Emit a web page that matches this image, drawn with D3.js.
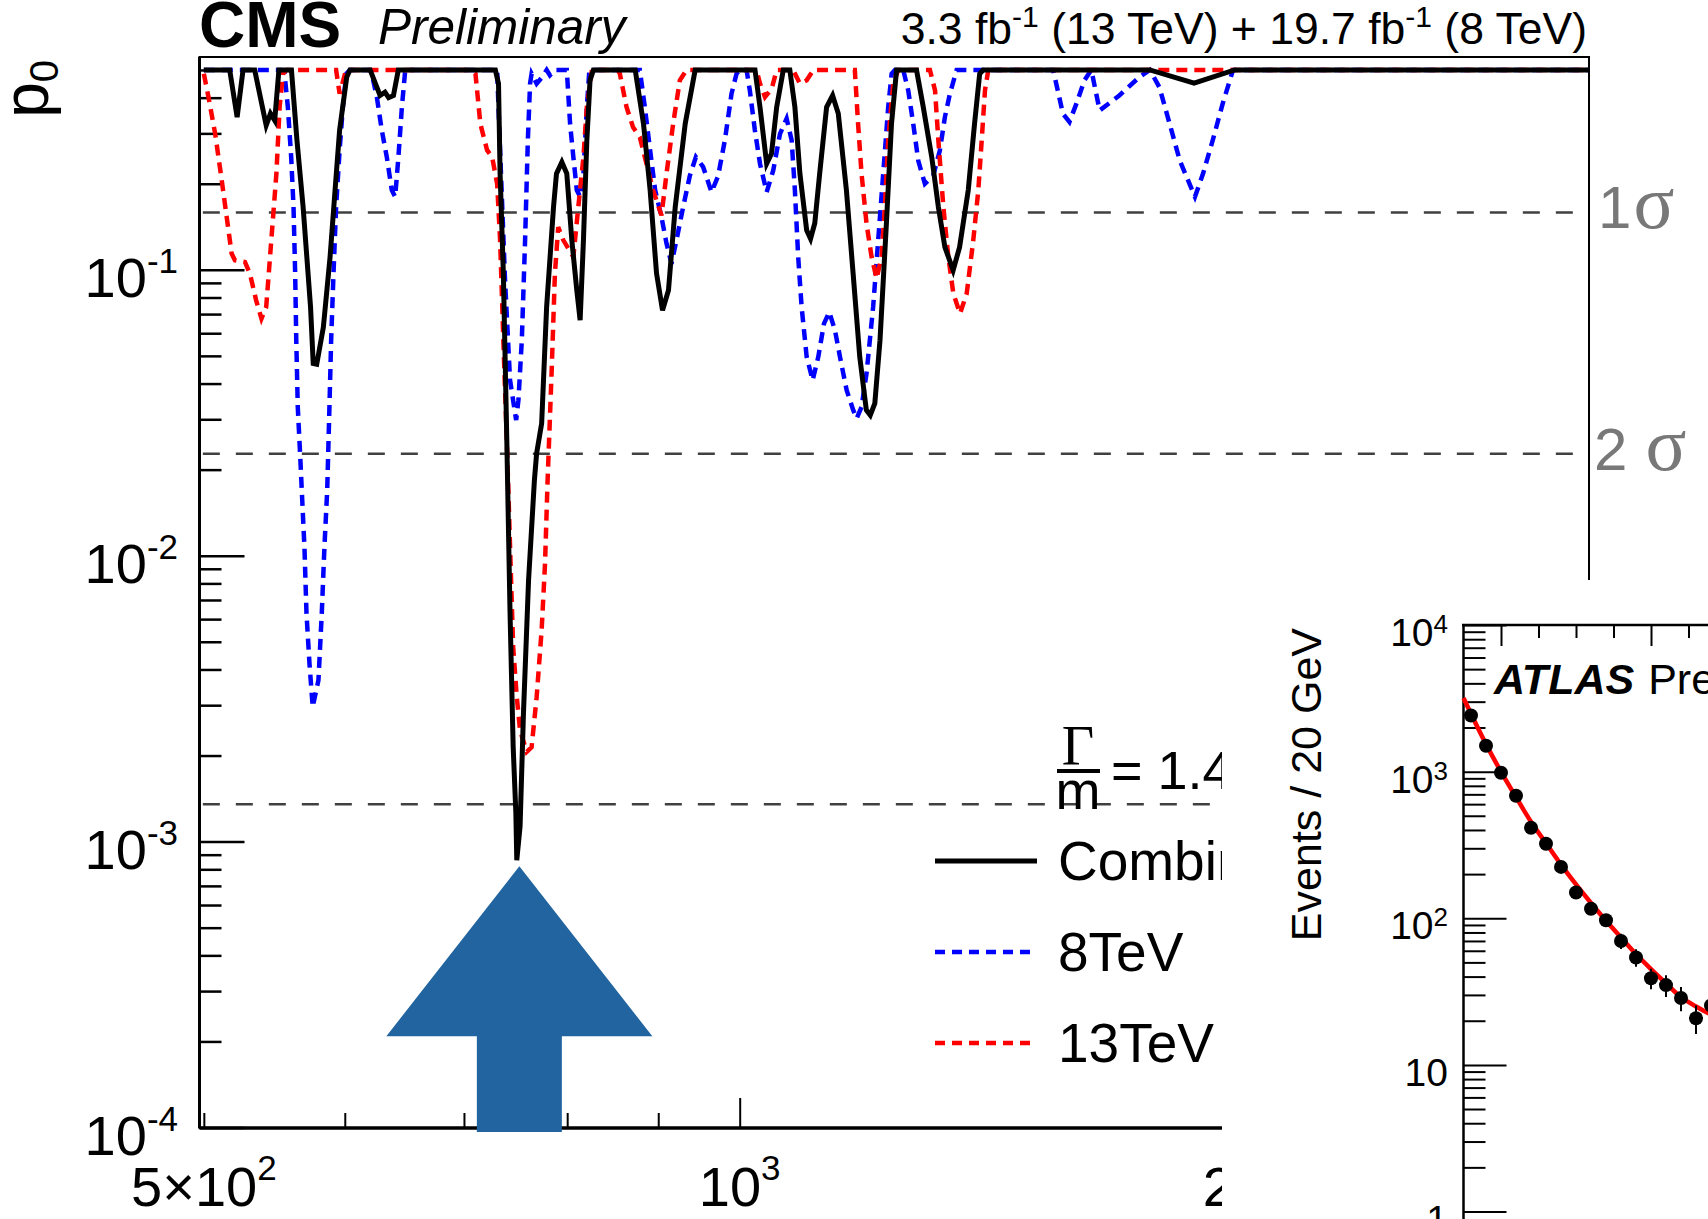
<!DOCTYPE html>
<html>
<head>
<meta charset="utf-8">
<script src="https://cdn.jsdelivr.net/npm/d3@7"></script>
<style>
  html, body { margin: 0; padding: 0; background: #fff; }
  svg { display: block; font-family: "Liberation Sans", Arial, sans-serif; }
</style>
</head>
<body>
<div id="chart"></div>
<script>
// Config
const width = 1708;
const height = 1219;

// Local p0 vs diphoton mass, [mass GeV, p0]
const combined = [
  [500,0.5],[517,0.5],[522,0.342],[526,0.5],[534,0.5],[542,0.32],[545,0.352],[548,0.333],[551,0.5],
  [560,0.5],[564,0.284],[568.5,0.166],[574,0.0741],[576,0.047],[578.6,0.0467],[583.6,0.063],[588.7,0.111],
  [592.5,0.19],[596,0.308],[601.5,0.472],[604,0.5],[620,0.5],[628,0.407],[632,0.418],[635,0.4],[639,0.407],
  [643,0.5],[729,0.5],[732,0.448],[733.5,0.217],[736.6,0.0972],[739.9,0.0253],[743,0.0063],[746,0.00215],
  [748.6,0.00126],[749.5,0.00086],[752.7,0.00113],[756,0.00281],[761,0.0082],[766.8,0.0184],[769,0.0228],
  [774,0.029],[779,0.0741],[786,0.166],[789,0.217],[794.5,0.238],[799.6,0.217],[804.8,0.127],[810,0.0848],
  [813.5,0.0666],[817,0.127],[820.6,0.284],[824,0.46],[827.6,0.5],[873.6,0.5],[883,0.324],[890.6,0.19],
  [898,0.0972],[905,0.0722],[912,0.0848],[920,0.166],[932,0.325],[944,0.5],[1020,0.5],[1026.6,0.371],
  [1035.5,0.235],[1042,0.255],[1049,0.371],[1058,0.5],[1067,0.5],[1074,0.371],[1081,0.217],[1090.5,0.1375],
  [1096,0.1285],[1102,0.1455],[1109,0.217],[1119,0.371],[1127.7,0.407],[1136,0.352],[1148,0.19],[1158,0.0972],
  [1168,0.0496],[1178,0.0323],[1184,0.031],[1191,0.0341],[1199,0.0567],[1209,0.1455],[1217,0.325],[1225,0.5],
  [1257,0.5],[1268,0.371],[1282,0.248],[1293,0.166],[1304,0.12],[1318,0.0996],[1329,0.12],[1344,0.19],
  [1355,0.324],[1364,0.485],[1370,0.5],[1700,0.5],[1800,0.45],[1897,0.5],[3000,0.5]
];

const tev8 = [
  [500,0.5],[552.7,0.5],[555,0.485],[557.4,0.371],[559.8,0.248],[561.5,0.166],[562.7,0.097],[563.5,0.0567],
  [564.6,0.0331],[566.4,0.0222],[568.3,0.0141],[569.5,0.0107],[571,0.00628],[573.2,0.0042],[575.6,0.00296],
  [579.9,0.00367],[582.4,0.00628],[584.4,0.0107],[586.5,0.0169],[588.2,0.0331],[589.5,0.0567],[591.3,0.097],
  [593.3,0.166],[596,0.262],[598.5,0.371],[601.2,0.485],[604,0.5],[620,0.5],[621.3,0.485],[625.4,0.402],
  [629.4,0.308],[633.5,0.248],[637.6,0.19],[640.4,0.18],[643.1,0.248],[646,0.371],[648.8,0.5],[730.7,0.5],
  [733.5,0.262],[738.2,0.0919],[743,0.0411],[748.9,0.0298],[751.1,0.035],[754.4,0.0567],[757.6,0.127],
  [760.3,0.284],[762.5,0.448],[764,0.485],[769,0.448],[774,0.47],[779,0.5],[782.3,0.479],[787.4,0.5],
  [799.6,0.5],[803,0.324],[806.4,0.248],[810,0.19],[813.5,0.18],[817,0.217],[820.6,0.371],[823.3,0.5],
  [878.8,0.5],[884.5,0.371],[890.6,0.262],[896.4,0.19],[903.8,0.153],[909.7,0.1235],[915.6,0.105],
  [921.5,0.127],[929.5,0.166],[937.5,0.213],[944.9,0.248],[953.8,0.229],[964.2,0.187],[972.5,0.213],
  [981,0.284],[989.5,0.413],[995.9,0.485],[1000.2,0.5],[1008.9,0.5],[1013.2,0.424],[1019.8,0.308],
  [1026.6,0.235],[1035.5,0.187],[1044.4,0.223],[1053.5,0.299],[1062.6,0.338],[1069.5,0.284],[1074,0.19],
  [1078.6,0.111],[1083.4,0.0741],[1090.5,0.0496],[1099,0.0411],[1107,0.0496],[1115.2,0.0648],[1122.9,0.0712],
  [1131.2,0.0614],[1138.5,0.0496],[1148.4,0.0379],[1158.2,0.0323],[1163.3,0.0302],[1170.7,0.0331],
  [1178.3,0.0434],[1188.4,0.0741],[1196.2,0.127],[1204,0.217],[1211.8,0.371],[1217.2,0.485],[1222.4,0.5],
  [1235.6,0.5],[1243.6,0.424],[1251.7,0.324],[1259.8,0.241],[1270.7,0.2],[1284.4,0.213],[1295.6,0.262],
  [1304,0.342],[1312.5,0.413],[1324,0.5],[1500,0.5],[1509,0.424],[1519,0.352],[1532,0.329],[1546,0.382],
  [1562,0.46],[1576,0.5],[1593,0.361],[1634,0.407],[1677,0.472],[1700,0.5],[1721,0.435],[1744,0.324],
  [1767,0.241],[1802,0.18],[1821,0.217],[1844,0.284],[1868,0.382],[1893,0.5],[3000,0.5]
];

const tev13 = [
  [500,0.485],[503,0.402],[507.4,0.299],[511.7,0.2056],[515,0.153],[518.3,0.114],[520.5,0.108],[527.3,0.1065],
  [530.7,0.097],[535,0.0782],[538.7,0.0675],[542,0.0741],[545.6,0.127],[549.2,0.217],[551.5,0.371],
  [553.9,0.485],[556.3,0.5],[593.3,0.5],[596,0.413],[601,0.5],[706,0.5],[710.5,0.485],[715,0.324],
  [721.3,0.262],[726,0.248],[730.7,0.2],[733.5,0.127],[736.6,0.0567],[739.9,0.0253],[744,0.0082],[746,0.0048],
  [749.5,0.0032],[752.7,0.00245],[759.2,0.00206],[764,0.00214],[769,0.0032],[774,0.0055],[777.4,0.0094],
  [780,0.0184],[784,0.0434],[787.4,0.097],[790.8,0.141],[796,0.127],[806.4,0.111],[811.6,0.166],[817,0.248],
  [820.6,0.371],[826,0.5],[854,0.5],[856.4,0.485],[863.8,0.371],[871.2,0.315],[878.8,0.291],[886.4,0.235],
  [894,0.19],[903.8,0.155],[909.7,0.217],[917.5,0.324],[925.5,0.46],[933.5,0.5],[1022,0.5],[1026.6,0.448],
  [1033.3,0.402],[1042.3,0.43],[1049,0.5],[1071.6,0.5],[1081,0.448],[1090.5,0.46],[1100,0.5],[1160.6,0.5],
  [1165.5,0.324],[1170.7,0.217],[1178.3,0.145],[1186,0.111],[1193.7,0.0932],[1201.5,0.111],[1206.6,0.166],
  [1211.8,0.284],[1219.7,0.448],[1227.6,0.5],[1279,0.5],[1287.5,0.424],[1293,0.284],[1301.4,0.166],
  [1309.8,0.111],[1318.3,0.0826],[1329.8,0.0703],[1341.3,0.0826],[1352.8,0.127],[1361.6,0.19],[1367.6,0.284],
  [1373.4,0.424],[1379.3,0.5],[3000,0.5]
];

// Significance reference lines
const sigmaNames = ["1", "2", "3"];
const sigmaP0 = [0.1587, 0.02275, 0.00135];

// Axis ticks and labels
const yMajorExps = [-1, -2, -3, -4];
const xMajorTicks = [1000, 2000];
const xMinorTicks = [500, 600, 700, 800, 900];
const xLabelValues = [500, 1000, 2000];
const xLabelBases = ["5×10", "10", "2×10"];
const xLabelExps = ["2", "3", "3"];

// Legend
const legendNames = ["Combined", "8TeV", "13TeV"];
const legendColors = ["#000", "#0000ff", "#ff0000"];

// Arrow marking the excess
const arrowMass = 752;
const arrowTipP0 = 8.2e-4;

// ATLAS inset: Events / 20 GeV
const atlasMass = [160,180,200,220,240,260,280,300,320,340,360,380,400,420,440,460,480];
const atlasEvents = [2414,1500,983,684,414,322,224,150,116,97,70,54,39,35,28.6,20.8,25.4];
const atlasFitMass = [150,160,180,200,220,240,260,280,300,320,340,360,380,400,420,440,460,480,500];
const atlasFitEvents = [3180,2480,1540,1000,670,455,325,232,170,127,96,74,57,45,36,29,25,22,19];
const atlasYMajor = [1, 10, 100, 1000, 10000];
const atlasXMajor = [200, 400];
const atlasXMinor = [250, 300, 350, 450];

// CMS frame
const frame = { left: 199.5, right: 1589, top: 57, bottom: 1128 };

const x = d3.scaleLog().domain([497.2, 3000]).range([frame.left, frame.right]);
const y = d3.scaleLog().domain([1e-4, 0.555]).range([1127.5, frame.top]);

function init() {
    const svg = d3.select("#chart")
        .append("svg")
        .attr("width", width)
        .attr("height", height);

    drawCmsFrame(svg);
    drawSigmaLines(svg);
    drawCurves(svg);
    drawCmsTexts(svg);
    drawLegend(svg);
    drawArrow(svg);
    drawAtlasInset(svg);
}

// Superscript label helper
function powText(g, px, py, base, exp, size, supSize, raise, anchor) {
    const t = g.append("text")
        .attr("x", px).attr("y", py)
        .attr("text-anchor", anchor)
        .attr("font-size", size);
    t.append("tspan").text(base);
    t.append("tspan").attr("font-size", supSize).attr("dy", -raise).text(exp);
    return t;
}

function styleTicks(g, w) {
    g.select(".domain").remove();
    g.selectAll("line").attr("stroke", "#000").attr("stroke-width", w);
}

// Frame and axes
function drawCmsFrame(svg) {
    const g = svg.append("g").attr("class", "cms-frame");

    g.append("rect")
        .attr("x", frame.left).attr("y", frame.top)
        .attr("width", frame.right - frame.left)
        .attr("height", frame.bottom - frame.top)
        .attr("fill", "none").attr("stroke", "#000").attr("stroke-width", 2);

    // y ticks (inward)
    const minors = [];
    yMajorExps.forEach(e => {
        for (let m = 2; m <= 9; m++) {
            const v = m * Math.pow(10, e);
            if (v < 0.555) minors.push(v);
        }
    });
    const yMinor = g.append("g").attr("transform", `translate(${frame.left},0)`)
        .call(d3.axisRight(y).tickValues(minors).tickSize(22).tickFormat(""));
    styleTicks(yMinor, 2.5);
    const yMajor = g.append("g").attr("transform", `translate(${frame.left},0)`)
        .call(d3.axisRight(y).tickValues(yMajorExps.map(e => Math.pow(10, e))).tickSize(45).tickFormat(""));
    styleTicks(yMajor, 2.5);

    // x ticks (upward)
    const xMin = g.append("g").attr("transform", `translate(0,${frame.bottom})`)
        .call(d3.axisTop(x).tickValues(xMinorTicks).tickSize(15).tickFormat(""));
    styleTicks(xMin, 2);
    const xMaj = g.append("g").attr("transform", `translate(0,${frame.bottom})`)
        .call(d3.axisTop(x).tickValues(xMajorTicks).tickSize(30).tickFormat(""));
    styleTicks(xMaj, 2);

    // thicker axis lines
    g.append("line")
        .attr("x1", frame.left).attr("x2", frame.right)
        .attr("y1", frame.bottom).attr("y2", frame.bottom)
        .attr("stroke", "#000").attr("stroke-width", 3.5);
    g.append("line")
        .attr("x1", frame.left).attr("x2", frame.left)
        .attr("y1", frame.top).attr("y2", frame.bottom)
        .attr("stroke", "#000").attr("stroke-width", 3);

    // y labels
    yMajorExps.forEach(e => {
        powText(g, 178, y(Math.pow(10, e)) + 27, "10", "-" + Math.abs(e), 56, 35, 24, "end");
    });

    // x labels
    xLabelValues.forEach((v, i) => {
        powText(g, x(v), 1206, xLabelBases[i], xLabelExps[i], 56, 35, 26, "middle");
    });

    // y title p0
    const title = g.append("text")
        .attr("transform", "translate(48,60) rotate(-90)")
        .attr("text-anchor", "end")
        .attr("font-size", 64);
    title.append("tspan").text("p");
    title.append("tspan").attr("font-size", 40).attr("dy", 10).text("0");
}

function drawSigmaLines(svg) {
    const g = svg.append("g").attr("class", "sigma");
    sigmaP0.forEach((p, i) => {
        g.append("line")
            .attr("x1", x(500) - 1).attr("x2", frame.right - 7)
            .attr("y1", y(p)).attr("y2", y(p))
            .attr("stroke", "#404040")
            .attr("stroke-width", 2.5)
            .attr("stroke-dasharray", "17,16");

        const t = g.append("text")
            .attr("x", i === 0 ? 1598 : 1594)
            .attr("y", y(p) + 16)
            .attr("fill", "#787878")
            .attr("font-size", 60);
        t.append("tspan").text(sigmaNames[i]);
        t.append("tspan")
            .attr("dx", i === 0 ? 2 : 18)
            .attr("font-family", "'Liberation Serif', 'DejaVu Serif', serif")
            .attr("font-size", 76)
            .text("σ");
    });
}

function drawCurves(svg) {
    const line = d3.line().x(d => x(d[0])).y(d => y(d[1]));
    const g = svg.append("g").attr("class", "curves");

    g.append("path").datum(tev8)
        .attr("d", line).attr("fill", "none")
        .attr("stroke", legendColors[1]).attr("stroke-width", 4.5)
        .attr("stroke-dasharray", "11,7");
    g.append("path").datum(tev13)
        .attr("d", line).attr("fill", "none")
        .attr("stroke", legendColors[2]).attr("stroke-width", 4.5)
        .attr("stroke-dasharray", "11,7");
    g.append("path").datum(combined)
        .attr("d", line).attr("fill", "none")
        .attr("stroke", legendColors[0]).attr("stroke-width", 5);
}

function drawCmsTexts(svg) {
    const g = svg.append("g").attr("class", "cms-texts");
    g.append("text")
        .attr("x", 199).attr("y", 47)
        .attr("font-size", 64).attr("font-weight", "bold")
        .text("CMS");
    g.append("text")
        .attr("x", 378).attr("y", 44)
        .attr("font-size", 49.5).attr("font-style", "italic")
        .text("Preliminary");

    const lumi = g.append("text")
        .attr("x", 1587).attr("y", 44)
        .attr("text-anchor", "end")
        .attr("font-size", 44.5);
    lumi.append("tspan").text("3.3 fb");
    lumi.append("tspan").attr("font-size", 30).attr("dy", -17).text("-1");
    lumi.append("tspan").attr("dy", 17).text(" (13 TeV) + 19.7 fb");
    lumi.append("tspan").attr("font-size", 30).attr("dy", -17).text("-1");
    lumi.append("tspan").attr("dy", 17).text(" (8 TeV)");
}

function drawLegend(svg) {
    const g = svg.append("g").attr("class", "legend");

    // width over mass
    g.append("text")
        .attr("x", 1078).attr("y", 765)
        .attr("text-anchor", "middle")
        .attr("font-family", "'Liberation Serif', serif")
        .attr("font-size", 56)
        .text("Γ");
    g.append("line")
        .attr("x1", 1057).attr("x2", 1100)
        .attr("y1", 771).attr("y2", 771)
        .attr("stroke", "#000").attr("stroke-width", 4);
    g.append("text")
        .attr("x", 1078).attr("y", 809)
        .attr("text-anchor", "middle")
        .attr("font-size", 54)
        .text("m");
    const gm = g.append("text")
        .attr("x", 1111).attr("y", 789)
        .attr("font-size", 54);
    gm.append("tspan").text("= 1.4×10");
    gm.append("tspan").attr("font-size", 34).attr("dy", -22).text("-4");

    const rowY = [861, 952, 1043];
    legendNames.forEach((name, i) => {
        g.append("line")
            .attr("x1", 935).attr("x2", 1037)
            .attr("y1", rowY[i]).attr("y2", rowY[i])
            .attr("stroke", legendColors[i])
            .attr("stroke-width", i === 0 ? 5 : 4.5)
            .attr("stroke-dasharray", i === 0 ? null : "10,7");
        g.append("text")
            .attr("x", 1058).attr("y", rowY[i] + 19)
            .attr("font-size", 55)
            .text(name);
    });
}

function drawArrow(svg) {
    const tx = x(arrowMass);
    const ty = y(arrowTipP0);
    const headW = 133, headH = 170, shaftW = 42.5, shaftBottom = 1132;
    const pts = [
        [tx, ty],
        [tx + headW, ty + headH],
        [tx + shaftW, ty + headH],
        [tx + shaftW, shaftBottom],
        [tx - shaftW, shaftBottom],
        [tx - shaftW, ty + headH],
        [tx - headW, ty + headH]
    ];
    svg.append("polygon")
        .attr("points", pts.map(p => p.join(",")).join(" "))
        .attr("fill", "#21649f");
}

// ATLAS inset pasted over the lower right
function drawAtlasInset(svg) {
    svg.append("rect")
        .attr("x", 1222).attr("y", 580)
        .attr("width", width - 1222).attr("height", height - 580)
        .attr("fill", "#fff");

    const ax = d3.scaleLinear().domain([150, 500]).range([1463.5, 1726]);
    const ay = d3.scaleLog().domain([1, 1e4]).range([1211.5, 625]);
    const g = svg.append("g").attr("class", "atlas");

    // y ticks
    const minors = [];
    atlasYMajor.slice(0, 4).forEach(b => {
        for (let m = 2; m <= 9; m++) minors.push(m * b);
    });
    const yMin = g.append("g").attr("transform", "translate(1463.5,0)")
        .call(d3.axisRight(ay).tickValues(minors).tickSize(22).tickFormat(""));
    styleTicks(yMin, 2);
    const yMaj = g.append("g").attr("transform", "translate(1463.5,0)")
        .call(d3.axisRight(ay).tickValues(atlasYMajor).tickSize(43).tickFormat(""));
    styleTicks(yMaj, 2);

    // x ticks along the top
    const xMin = g.append("g").attr("transform", "translate(0,625)")
        .call(d3.axisBottom(ax).tickValues(atlasXMinor).tickSize(13).tickFormat(""));
    styleTicks(xMin, 2);
    const xMaj = g.append("g").attr("transform", "translate(0,625)")
        .call(d3.axisBottom(ax).tickValues(atlasXMajor).tickSize(21).tickFormat(""));
    styleTicks(xMaj, 2);

    g.append("line")
        .attr("x1", 1463.5).attr("x2", 1463.5).attr("y1", 624).attr("y2", height)
        .attr("stroke", "#000").attr("stroke-width", 2.5);
    g.append("line")
        .attr("x1", 1462).attr("x2", width).attr("y1", 625).attr("y2", 625)
        .attr("stroke", "#000").attr("stroke-width", 2.5);

    // y labels
    atlasYMajor.forEach(v => {
        const e = Math.round(Math.log10(v));
        if (e === 0) {
            g.append("text").attr("x", 1448).attr("y", ay(v) + 21)
                .attr("text-anchor", "end").attr("font-size", 39).text("1");
        } else if (e === 1) {
            g.append("text").attr("x", 1448).attr("y", ay(v) + 21)
                .attr("text-anchor", "end").attr("font-size", 39).text("10");
        } else {
            powText(g, 1448, ay(v) + 21, "10", String(e), 39, 26, 13, "end");
        }
    });

    g.append("text")
        .attr("transform", "translate(1321,628) rotate(-90)")
        .attr("text-anchor", "end")
        .attr("font-size", 43)
        .text("Events / 20 GeV");

    const lab = g.append("text").attr("x", 1494).attr("y", 694).attr("font-size", 43);
    lab.append("tspan").attr("font-weight", "bold").attr("font-style", "italic").text("ATLAS");
    lab.append("tspan").attr("dx", 14).text("Preliminary");

    // fit
    const fitLine = d3.line().curve(d3.curveMonotoneX)
        .x((d, i) => ax(atlasFitMass[i]))
        .y(d => ay(d));
    g.append("path").datum(atlasFitEvents)
        .attr("d", fitLine).attr("fill", "none")
        .attr("stroke", "#ff0000").attr("stroke-width", 4.5);

    // data with sqrt(N) error bars
    g.selectAll(".err").data(atlasEvents).join("line")
        .attr("class", "err")
        .attr("x1", (d, i) => ax(atlasMass[i])).attr("x2", (d, i) => ax(atlasMass[i]))
        .attr("y1", d => ay(d + Math.sqrt(d))).attr("y2", d => ay(Math.max(d - Math.sqrt(d), 1)))
        .attr("stroke", "#000").attr("stroke-width", 2);
    g.selectAll(".pt").data(atlasEvents).join("circle")
        .attr("class", "pt")
        .attr("cx", (d, i) => ax(atlasMass[i]))
        .attr("cy", d => ay(d))
        .attr("r", 7)
        .attr("fill", "#000");
}

document.addEventListener("DOMContentLoaded", init);
</script>
</body>
</html>
